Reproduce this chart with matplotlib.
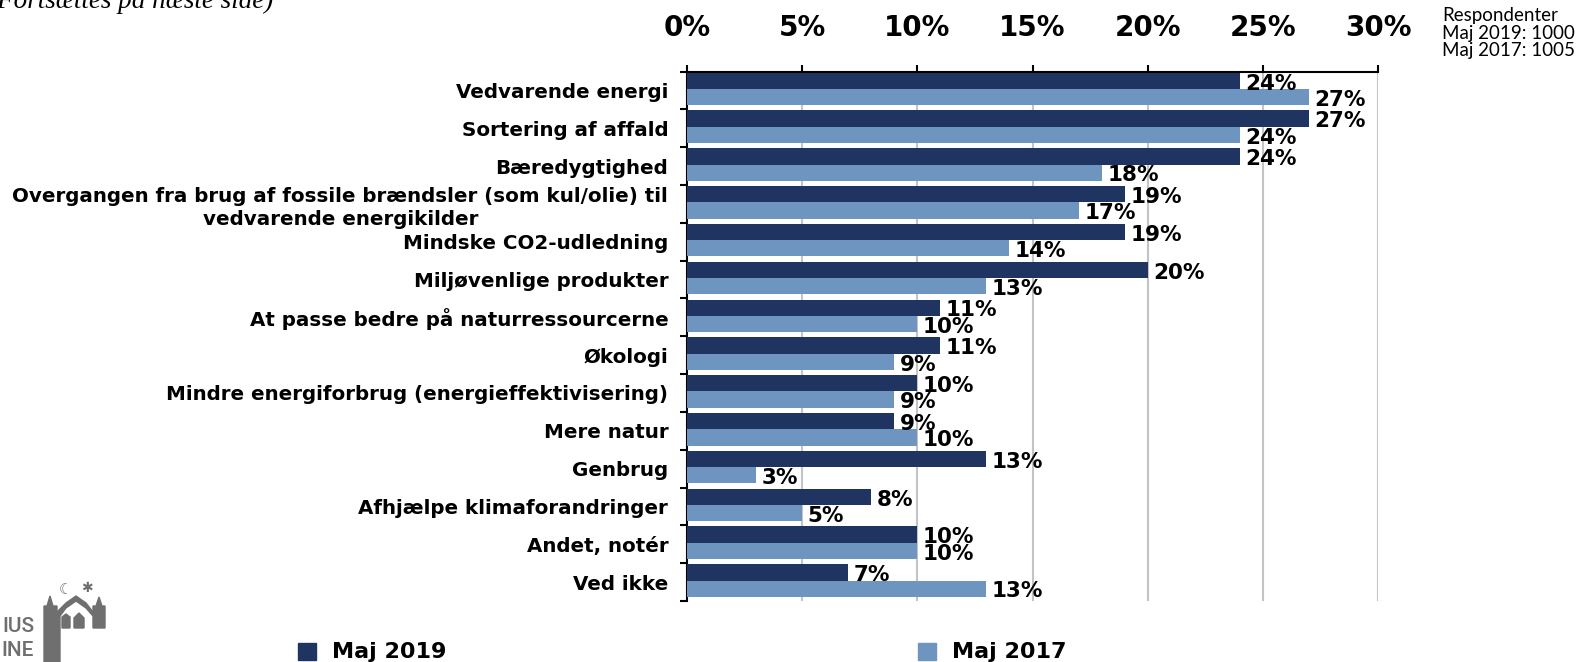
import matplotlib
matplotlib.use("Agg")
import matplotlib.pyplot as plt
from matplotlib.patches import Rectangle, Polygon

categories = [
    "Vedvarende energi",
    "Sortering af affald",
    "Bæredygtighed",
    "Overgangen fra brug af fossile brændsler (som kul/olie) til\nvedvarende energikilder",
    "Mindske CO2-udledning",
    "Miljøvenlige produkter",
    "At passe bedre på naturressourcerne",
    "Økologi",
    "Mindre energiforbrug (energieffektivisering)",
    "Mere natur",
    "Genbrug",
    "Afhjælpe klimaforandringer",
    "Andet, notér",
    "Ved ikke",
]
series_names = ["Maj 2019", "Maj 2017"]
maj2019 = [24, 27, 24, 19, 19, 20, 11, 11, 10, 9, 13, 8, 10, 7]
maj2017 = [27, 24, 18, 17, 14, 13, 10, 9, 9, 10, 3, 5, 10, 13]
xticks = [0, 5, 10, 15, 20, 25, 30]
xtick_labels = ["0%", "5%", "10%", "15%", "20%", "25%", "30%"]
respondents = ["Respondenter", "Maj 2019: 1000", "Maj 2017: 1005"]

dark = "#203462"
light = "#6E95C0"
W, H = 1581, 662

fig = plt.figure(figsize=(W / 100, H / 100), dpi=100)
ax = fig.add_axes([687 / W, 1 - 601 / H, (1378 - 687) / W, (601 - 71.5) / H])

n = len(categories)
ys = list(range(n))
bh = 0.43
shift = -0.04
ax.barh([y + shift - bh / 2 for y in ys], maj2019, height=bh, color=dark, zorder=3)
ax.barh([y + shift + bh / 2 for y in ys], maj2017, height=bh, color=light, zorder=3)

for y, v in zip(ys, maj2019):
    ax.annotate(f"{v}%", (v, y + shift - bh / 2), xytext=(4, -2), textcoords="offset points",
                ha="left", va="center", fontsize=15.5, fontweight="bold", color="black", zorder=4)
for y, v in zip(ys, maj2017):
    ax.annotate(f"{v}%", (v, y + shift + bh / 2), xytext=(4, -2), textcoords="offset points",
                ha="left", va="center", fontsize=15.5, fontweight="bold", color="black", zorder=4)

ax.set_xlim(0, 30)
ax.set_ylim(n - 0.5, -0.5)
ax.xaxis.tick_top()
ax.set_xticks(xticks)
ax.set_xticklabels(xtick_labels, fontsize=20, fontweight="bold")
ax.tick_params(axis="x", direction="out", length=5, width=1.5, pad=16, color="black")
for x in xticks[1:]:
    ax.axvline(x, color="#c4c4c4", lw=1.5, zorder=1)

ax.set_yticks([y - 0.5 for y in ys] + [n - 0.5])
ax.set_yticklabels([])
ax.set_yticks(ys, minor=True)
ax.set_yticklabels(categories, minor=True, fontsize=14.3, fontweight="bold",
                   multialignment="center", linespacing=1.25)
ax.tick_params(axis="y", which="major", direction="out", length=5, width=1.5, color="black")
ax.tick_params(axis="y", which="minor", length=0, pad=13.5)

for s in ["bottom", "right"]:
    ax.spines[s].set_visible(False)
ax.spines["top"].set_linewidth(1.5)
ax.spines["left"].set_linewidth(1.5)

# legend (manual)
leg_pos = [(298, 332), (918, 952)]
for (sx, tx), name, col in zip(leg_pos, series_names, [dark, light]):
    fig.add_artist(Rectangle((sx / W, 1 - 660 / H), 18 / W, 17 / H, transform=fig.transFigure,
                             color=col))
    fig.text(tx / W, 1 - 652 / H, name, fontsize=16, fontweight="bold", ha="left",
             va="center", color="black")

# respondents note
for i, line in enumerate(respondents):
    fig.text(1442 / W, 1 - (21 + 17.5 * i) / H, line, fontsize=13.5, family="Lato",
             ha="left", va="baseline", color="black")

# continuation note (cut off at top)
fig.text(273 / W, 1 - 8 / H, "(Fortsættes på næste side)", fontsize=19.5, style="italic",
         family="Liberation Serif", ha="right", va="baseline", color="black")

# logo approximation
grey = "#6f6f6f"
fig.text(34 / W, 1 - 632 / H, "IUS", fontsize=15, family="Roboto", fontweight="medium",
         color=grey, ha="right", va="baseline")
fig.text(34 / W, 1 - 656 / H, "INE", fontsize=15, family="Roboto", fontweight="medium",
         color=grey, ha="right", va="baseline")


def px(x, y):
    return (x / W, 1 - y / H)


logo_shapes = [
    [px(44, 662), px(44, 606), px(47, 606), px(50, 596), px(53, 606), px(57, 606), px(57, 662)],
    [px(57, 612), px(66, 603), px(76, 596), px(86, 603), px(93, 612), px(93, 616),
     px(86, 608), px(76, 601), px(66, 608), px(60, 616), px(60, 662), px(57, 662)],
    [px(93, 628), px(93, 606), px(96, 606), px(99, 597), px(102, 606), px(105, 606), px(105, 628)],
    [px(62, 628), px(62, 617), px(66, 614), px(70, 617), px(70, 628)],
    [px(74, 628), px(74, 618), px(79, 613), px(84, 618), px(84, 628)],
]
for pts in logo_shapes:
    fig.add_artist(Polygon(pts, closed=True, transform=fig.transFigure, color=grey))
fig.text(66 / W, 1 - 590 / H, "☾", fontsize=11, color=grey, ha="center", va="center")
fig.text(87 / W, 1 - 588 / H, "✱", fontsize=10, color=grey, ha="center", va="center")

fig.savefig("out.png", dpi=100)
